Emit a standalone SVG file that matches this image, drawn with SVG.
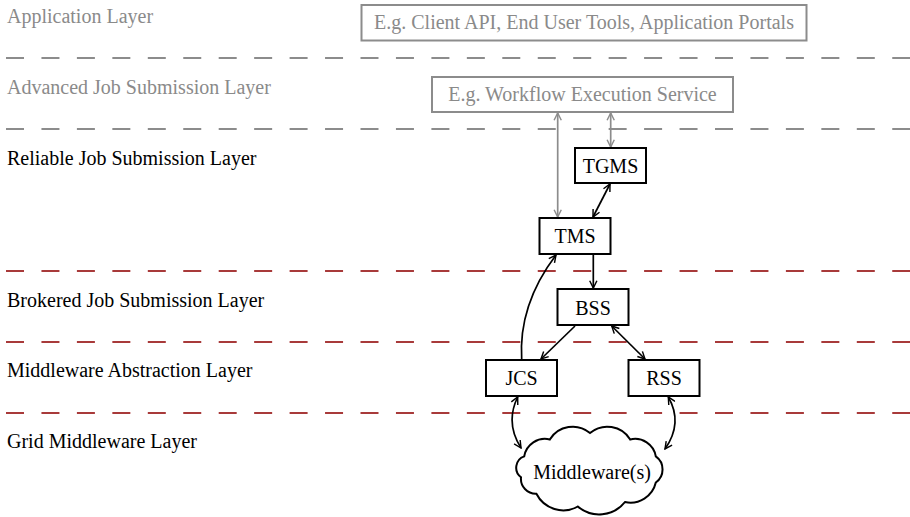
<svg xmlns="http://www.w3.org/2000/svg" width="910" height="517" viewBox="0 0 910 517" font-family="'Liberation Serif', 'DejaVu Serif', serif">
  <defs>
    <marker id="arrow" viewBox="0 0 10 10" refX="9" refY="5" markerWidth="9" markerHeight="9" markerUnits="userSpaceOnUse" orient="auto-start-reverse">
      <path d="M1,1 L9,5 L1,9" fill="none" stroke="#000" stroke-width="1.6"/>
    </marker>
    <marker id="arrow-grey" viewBox="0 0 10 10" refX="9" refY="5" markerWidth="9" markerHeight="9" markerUnits="userSpaceOnUse" orient="auto-start-reverse">
      <path d="M1,1 L9,5 L1,9" fill="none" stroke="#8c8c8c" stroke-width="1.6"/>
    </marker>
  </defs>
  <style>
    text { font-size: 20px; }
    .layer { fill: #000; }
    .layer.muted { fill: #8a8a8a; }
    .sep { stroke-width: 2; stroke-dasharray: 18 17.45; fill: none; }
    .sep.grey { stroke: #8c8c8c; }
    .sep.red { stroke: #a83a3a; }
    .box { fill: #fff; stroke: #000; stroke-width: 2; }
    .box.muted { stroke: #8c8c8c; }
    .label { text-anchor: middle; fill: #000; }
    .label.muted { fill: #8a8a8a; }
    .conn { fill: none; stroke: #000; stroke-width: 1.7; }
    .conn.muted { stroke: #8c8c8c; }
  </style>

  <!-- layer separators -->
  <g id="separators">
    <line class="sep grey" x1="6" y1="58" x2="910" y2="58"/>
    <line class="sep grey" x1="6" y1="129" x2="910" y2="129"/>
    <line class="sep red" x1="6" y1="271" x2="910" y2="271"/>
    <line class="sep red" x1="6" y1="342" x2="910" y2="342"/>
    <line class="sep red" x1="6" y1="413" x2="910" y2="413"/>
  </g>

  <!-- layer names -->
  <g id="layer-names">
    <text class="layer muted" x="7" y="23">Application Layer</text>
    <text class="layer muted" x="7" y="94">Advanced Job Submission Layer</text>
    <text class="layer" x="7" y="165">Reliable Job Submission Layer</text>
    <text class="layer" x="7" y="307">Brokered Job Submission Layer</text>
    <text class="layer" x="7" y="377">Middleware Abstraction Layer</text>
    <text class="layer" x="7" y="448">Grid Middleware Layer</text>
  </g>

  <!-- connectors -->
  <g id="connectors">
    <line class="conn muted" x1="557.7" y1="113" x2="557.7" y2="217" marker-start="url(#arrow-grey)" marker-end="url(#arrow-grey)"/>
    <line class="conn muted" x1="610.7" y1="113" x2="610.7" y2="147" marker-start="url(#arrow-grey)" marker-end="url(#arrow-grey)"/>
    <line class="conn" x1="610" y1="184" x2="593" y2="217" marker-start="url(#arrow)" marker-end="url(#arrow)"/>
    <line class="conn" x1="593.3" y1="255" x2="593.3" y2="288" marker-end="url(#arrow)"/>
    <path class="conn" d="M521.7,360 C519,318 534,284 556,255" marker-end="url(#arrow)"/>
    <line class="conn" x1="575" y1="326" x2="541" y2="359" marker-end="url(#arrow)"/>
    <line class="conn" x1="611.7" y1="326" x2="645" y2="359" marker-start="url(#arrow)" marker-end="url(#arrow)"/>
    <path class="conn" d="M517.7,397 Q505,423 521,448" marker-start="url(#arrow)" marker-end="url(#arrow)"/>
    <path class="conn" d="M668.3,397 Q683.3,423 665,449" marker-start="url(#arrow)" marker-end="url(#arrow)"/>
  </g>

  <!-- nodes -->
  <g id="app-examples">
    <rect class="box muted" x="361.5" y="5" width="445" height="35.5"/>
    <text class="label muted" x="584" y="29">E.g. Client API, End User Tools, Application Portals</text>
  </g>
  <g id="workflow-service">
    <rect class="box muted" x="432" y="77" width="301" height="35"/>
    <text class="label muted" x="582.5" y="100.5">E.g. Workflow Execution Service</text>
  </g>
  <g id="tgms">
    <rect class="box" x="575" y="148" width="71" height="35"/>
    <text class="label" x="610.5" y="172.5">TGMS</text>
  </g>
  <g id="tms">
    <rect class="box" x="539.5" y="218" width="71" height="36"/>
    <text class="label" x="575" y="243">TMS</text>
  </g>
  <g id="bss">
    <rect class="box" x="557.5" y="289" width="71" height="36"/>
    <text class="label" x="593" y="314.5">BSS</text>
  </g>
  <g id="jcs">
    <rect class="box" x="486" y="360" width="71" height="36"/>
    <text class="label" x="521.5" y="385">JCS</text>
  </g>
  <g id="rss">
    <rect class="box" x="628.5" y="360" width="71" height="36"/>
    <text class="label" x="664" y="385">RSS</text>
  </g>
  <g id="middleware">
    <path class="box" d="M524.2,456.4 A21,21 0 0 1 549.8,439.5 A27,27 0 0 1 590,433 A27,27 0 0 1 630.2,439.5 A21,21 0 0 1 655.8,456.4 A16,16 0 0 1 655.8,482.5 A26,26 0 0 1 625,502 A33,33 0 0 1 577.8,506.5 A30,30 0 0 1 536.4,493.8 A15,15 0 0 1 521,477.3 A12,12 0 0 1 524.2,456.4 Z"/>
    <text class="label" x="592" y="479">Middleware(s)</text>
  </g>
</svg>
